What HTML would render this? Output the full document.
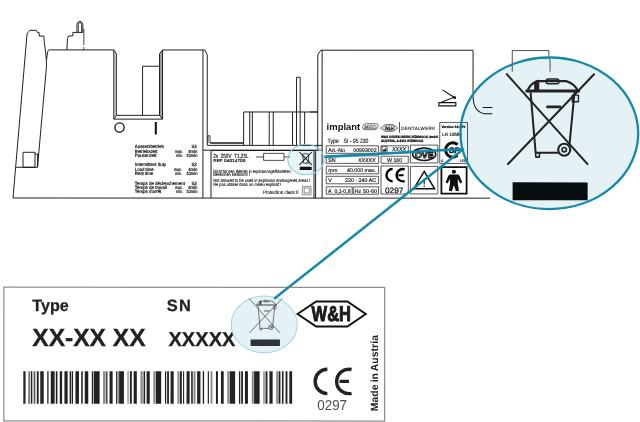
<!DOCTYPE html>
<html><head><meta charset="utf-8">
<style>
html,body{margin:0;padding:0;background:#fff;}
body{width:640px;height:422px;overflow:hidden;font-family:"Liberation Sans",sans-serif;}
svg{display:block;filter:blur(0.38px);}
text{font-family:"Liberation Sans",sans-serif;text-rendering:geometricPrecision;}
.l{fill:none;stroke:#151515;stroke-width:0.95;}
.lt{fill:none;stroke:#444;stroke-width:0.6;}
.t4{font-size:4.3px;fill:#111;stroke:#111;stroke-width:0.12;}
.b{font-weight:bold;}
</style></head><body>
<svg width="640" height="422" viewBox="0 0 640 422">
<rect width="640" height="422" fill="#fff"/>
<g transform="rotate(0.02 320 211)">

<!-- ellipse fills (under drawing) -->
<ellipse cx="305.9" cy="159.5" rx="18.1" ry="15.2" fill="#e8f4f8"/>
<ellipse cx="549.3" cy="133.2" rx="88.9" ry="75.8" fill="#e4f1f5"/>
<!-- ===== DEVICE OUTLINE ===== -->
<path d="M159.5,53.8 L162.5,50 L162.5,119.2 L159.5,115.4 Z" fill="#a0a0a0"/>
<path d="M113.8,50 L116.3,53.8 L116.3,115.4 L113.8,119.2 Z" fill="#e2e2e2"/>
<g id="device" class="l">
<path d="M13,198.1 L26.9,35 L27.2,33.6 L28.6,31.8 L29.8,30.4 L36.3,30.4 L37.4,32.6 L39.1,32.7 L39.1,36.2 L43.8,36.2 L44.3,42.8 L45.5,52.2 L46.3,59.3 L46.4,67 L37.5,167.4"/>
<path d="M49.2,50 Q47.8,50.2 47.6,52 L46.5,60"/>
<path d="M16,167.4 L37.5,167.4"/>
<rect x="23" y="152.4" width="12" height="15"/>
<path d="M35,154.2 L38.6,154.2 M37.6,154.2 L37.6,167.4"/>
<path d="M13,198.1 L490,198.1"/>
<path d="M66.8,50 L67.4,38.6 L68.6,36 L72.8,36 L72.8,32.5 L76.9,32.5 L76.9,24.6 Q77.2,21.7 79.85,21.5 Q82.5,21.7 82.75,24.6 L82.75,32.5 L76.9,32.5"/>
<path d="M78.3,32.5 L78.3,24.6 Q78.6,22.9 79.85,22.8 Q81.2,22.9 81.5,24.6 L81.5,32.5 M83.8,29 L83.8,45.4 M83.8,47.2 L83.8,50" style="stroke-width:0.8"/>
<path d="M49.2,50 L113.8,50 L113.8,119.2 L162.5,119.2 L162.5,50 L204.6,50 L207.2,54.7 L207.2,145.1"/>
<path d="M113.8,50 L116.3,53.8 L116.3,115.4 L159.5,115.4 L159.5,53.8 L162.5,50 M113.8,119.2 L116.3,115.4 M162.5,119.2 L159.5,115.4"/>
<path d="M142.5,115.4 L142.5,66.3 L159.5,66.3"/>
<path d="M202.9,50 L202.9,198.1"/>
<path d="M208,143 L208,135.8 L210,135.8 L210,143" style="stroke-width:0.8"/>
<path d="M207.2,145.4 L322.1,145.4 M202.8,150.2 L322.1,150.2"/>
<path d="M243.6,145.1 L243.6,112 L317.6,112"/>
<path d="M249.7,112 L249.7,145.1 M252.3,112 L252.3,145.1 M269.2,112 L269.2,145.1 M273.2,112 L273.2,145.1 M292.5,112 L292.5,145.1 M304.6,112 L304.6,145.1"/>
<path d="M296.5,145.1 L296.5,77.3 L300.1,77.3 L300.1,145.1"/>
<path d="M211,198.1 L211,150.5 L314,150.5 L314,198.1"/>
<path d="M315.6,198.1 L315.6,150.2 M317.7,150.2 L317.7,54.7 L320.8,50.2 L473,50.2 L473,96.8"/>
<path d="M473,96.8 Q473.4,111.5 484,113.6 L492.3,113.8 M482.7,107.5 L492.3,107.5" style="stroke-width:1;stroke:#111"/>
<path d="M322.1,50.2 L322.1,198.1"/>
<path d="M310,112 L317.7,112"/>
</g>
<path d="M210,143.1 L243.6,143.1" stroke="#1a1a1a" stroke-width="1.5" fill="none"/>
<path d="M512.2,71.6 L512.2,50.5 L548.8,50.5 L548.8,58.5 L550,60.5 L550,71.6" fill="none" stroke="#222" stroke-width="0.8"/>
<circle cx="119.5" cy="127.6" r="4.6" fill="none" stroke="#111" stroke-width="1.3"/>
<rect x="154.8" y="122" width="2" height="12.6" fill="#111"/>

<!-- ===== LEFT DUTY TEXT ===== -->
<g class="t4" id="duty" style="font-size:4.6px;stroke-width:0.2">
<text x="134.8" y="148.4" textLength="29.0" lengthAdjust="spacingAndGlyphs">Aussetzbetrieb</text><text x="196.6" y="148.4" text-anchor="end" textLength="5.2" lengthAdjust="spacingAndGlyphs">S3</text>
<text x="134.8" y="152.9" textLength="22.6" lengthAdjust="spacingAndGlyphs">Betriebszeit</text><text x="182.7" y="152.9" text-anchor="end" textLength="7.7" lengthAdjust="spacingAndGlyphs">max.</text><text x="197.5" y="152.9" text-anchor="end" textLength="9.3" lengthAdjust="spacingAndGlyphs">4min</text>
<text x="134.8" y="156.7" textLength="21.7" lengthAdjust="spacingAndGlyphs">Pausenzeit</text><text x="182.7" y="156.7" text-anchor="end" textLength="6.7" lengthAdjust="spacingAndGlyphs">min.</text><text x="197.5" y="156.7" text-anchor="end" textLength="11.3" lengthAdjust="spacingAndGlyphs">10min</text>
<text x="134.8" y="166.5" textLength="31.2" lengthAdjust="spacingAndGlyphs">Intermittent duty</text><text x="196.6" y="166.5" text-anchor="end" textLength="5.2" lengthAdjust="spacingAndGlyphs">S3</text>
<text x="134.8" y="171.2" textLength="18.8" lengthAdjust="spacingAndGlyphs">Load time</text><text x="181.8" y="171.2" text-anchor="end" textLength="7.7" lengthAdjust="spacingAndGlyphs">max.</text><text x="197.5" y="171.2" text-anchor="end" textLength="9.3" lengthAdjust="spacingAndGlyphs">4min</text>
<text x="134.8" y="175.2" textLength="18.4" lengthAdjust="spacingAndGlyphs">Rest time</text><text x="181.8" y="175.2" text-anchor="end" textLength="6.7" lengthAdjust="spacingAndGlyphs">min.</text><text x="197.5" y="175.2" text-anchor="end" textLength="11.3" lengthAdjust="spacingAndGlyphs">10min</text>
<text x="134.8" y="184.8" textLength="50.1" lengthAdjust="spacingAndGlyphs">Temps de déclenchement</text><text x="196.6" y="184.8" text-anchor="end" textLength="5.2" lengthAdjust="spacingAndGlyphs">S3</text>
<text x="134.8" y="189.0" textLength="32.2" lengthAdjust="spacingAndGlyphs">Temps de travail</text><text x="182.7" y="189.0" text-anchor="end" textLength="7.7" lengthAdjust="spacingAndGlyphs">max.</text><text x="197.5" y="189.0" text-anchor="end" textLength="9.3" lengthAdjust="spacingAndGlyphs">4min</text>
<text x="134.8" y="192.9" textLength="26.5" lengthAdjust="spacingAndGlyphs">Temps d'arrêt</text><text x="182.7" y="192.9" text-anchor="end" textLength="6.7" lengthAdjust="spacingAndGlyphs">min.</text><text x="197.5" y="192.9" text-anchor="end" textLength="11.3" lengthAdjust="spacingAndGlyphs">10min</text>
</g>
<!-- ===== FUSE LABEL ===== -->
<g id="fuse">
<text class="t4" x="213.2" y="157.8" style="font-size:6px;stroke-width:0.15" textLength="35.4" lengthAdjust="spacingAndGlyphs">2x&#160;&#160;250V&#160;&#160;T1,25L</text>
<text class="t4" x="213.2" y="162.2" style="font-size:4.2px;stroke-width:0.2" textLength="32.2" lengthAdjust="spacingAndGlyphs">REF 04014700</text>
<path class="l" style="stroke-width:0.75" d="M256,157 L290,157"/><rect class="l" style="stroke-width:0.75;fill:#fff" x="263.6" y="153.4" width="20.4" height="7"/>
<text class="t4" x="213.2" y="172.8" style="font-size:4.5px" textLength="77.4" lengthAdjust="spacingAndGlyphs">Nicht für den Betrieb in explosionsgefährdeten</text>
<text class="t4" x="213.2" y="176.5" style="font-size:4.5px" textLength="36.6" lengthAdjust="spacingAndGlyphs">Bereichen bestimmt !</text>
<text class="t4" x="213.2" y="182" style="font-size:4.5px" textLength="97.2" lengthAdjust="spacingAndGlyphs">Not allowed to be used in explosion endangered areas !</text>
<text class="t4" x="213.2" y="186.1" style="font-size:4.5px" textLength="68.2" lengthAdjust="spacingAndGlyphs">Ne pas utiliser dans un milieu explosif !</text>
<text class="t4" x="263" y="194" style="font-size:5.2px" textLength="35.6" lengthAdjust="spacingAndGlyphs">Protection class II</text>
<rect class="lt" x="302.4" y="186.4" width="8.6" height="8.3" /><rect class="lt" x="304.2" y="188" width="5.1" height="5"/>
</g>

<!-- ===== DEVICE LABEL ===== -->
<g id="dlabel">
<text x="326.6" y="129.8" class="b" style="font-size:9.4px;fill:#111" textLength="33.6" lengthAdjust="spacingAndGlyphs">implant</text>
<rect x="362.6" y="123.5" width="15.6" height="6.2" rx="3" fill="#fff" stroke="#555" stroke-width="0.7" transform="skewX(-12) translate(26.9,0)"/>
<text x="364" y="128.9" style="font-size:6px;font-style:italic;font-weight:bold;fill:#fff;stroke:#444;stroke-width:0.4" textLength="12.4" lengthAdjust="spacingAndGlyphs">MED</text>
<path d="M380.4,128 L385.4,124.5 L393,124.5 L397.8,128 L393,131.4 L385.4,131.4 Z" fill="#fff" stroke="#222" stroke-width="0.6"/>
<rect x="383.6" y="125.7" width="11.2" height="4.6" rx="2.2" fill="none" stroke="#222" stroke-width="0.5"/>
<text x="389.2" y="129.8" text-anchor="middle" class="b" style="font-size:4.6px;fill:#111;stroke:#111;stroke-width:0.2" textLength="8.4" lengthAdjust="spacingAndGlyphs">W&amp;H</text>
<path d="M399.5,122 L399.5,132.8" stroke="#222" stroke-width="0.8" fill="none"/>
<text x="401.2" y="130.2" style="font-size:4.5px;fill:#111;stroke:#111;stroke-width:0.12" textLength="34" lengthAdjust="spacing">DENTALWERK</text>
<text x="327.5" y="142.5" style="font-size:6.2px;fill:#111;stroke:#111;stroke-width:0.12" textLength="11.4" lengthAdjust="spacingAndGlyphs">Type</text>
<text x="343.6" y="142.5" style="font-size:6.2px;fill:#111;stroke:#111;stroke-width:0.12" textLength="24.8" lengthAdjust="spacingAndGlyphs">SI - 95 230</text>
<text x="380.9" y="138.3" class="b" style="font-size:3.3px;fill:#000;stroke:#000;stroke-width:0.22" textLength="57" lengthAdjust="spacingAndGlyphs">W&amp;H DENTALWERK BÜRMOOS GmbH</text>
<text x="380.9" y="141.9" class="b" style="font-size:3.3px;fill:#000;stroke:#000;stroke-width:0.22" textLength="42.5" lengthAdjust="spacingAndGlyphs">AUSTRIA,  A-5111 BÜRMOOS</text>
<g class="l" style="stroke-width:0.7">
<rect x="326.2" y="145.8" width="52.4" height="7.5"/>
<rect x="326.2" y="155.9" width="52.4" height="7.5"/>
<rect x="326.2" y="166.2" width="52.4" height="7.6"/>
<rect x="326.2" y="176.3" width="52.4" height="7.5"/>
<rect x="326.2" y="186.8" width="26" height="7.4"/>
<rect x="353.3" y="186.8" width="25.3" height="7.4"/>
<rect x="381" y="145.8" width="27.3" height="7.2"/>
<rect x="381" y="156.2" width="27.3" height="7"/>
<rect x="381" y="166" width="27.3" height="28"/>
<rect x="410.4" y="145.1" width="27.4" height="17.8"/>
<rect x="410.4" y="166.4" width="27.4" height="27.5"/>
<rect x="439.7" y="122.4" width="27.8" height="41"/>
</g>
<rect x="441.4" y="167" width="25.2" height="26.6" fill="none" stroke="#111" stroke-width="1.8"/>
<g style="font-size:5.3px;fill:#111;stroke:#111;stroke-width:0.15">
<text x="328.2" y="151.6">Art.-No</text><text x="376.6" y="151.6" text-anchor="end" textLength="23.4" lengthAdjust="spacingAndGlyphs">00993002</text>
<text x="328.2" y="161.8">SN</text><text x="375.4" y="161.8" text-anchor="end" style="font-style:italic" textLength="17.4" lengthAdjust="spacingAndGlyphs">XXXXX</text>
<text x="328.2" y="172">rpm</text><text x="376" y="172" text-anchor="end" textLength="29" lengthAdjust="spacingAndGlyphs">40.000 max.</text>
<text x="328.2" y="182.2">V</text><text x="376" y="182.2" text-anchor="end" textLength="31" lengthAdjust="spacingAndGlyphs">220 - 240 AC</text>
<text x="328" y="192.6" textLength="22.6" lengthAdjust="spacingAndGlyphs">A&#160;&#160;0,1-0,8</text>
<text x="354.6" y="192.6" textLength="22.6" lengthAdjust="spacingAndGlyphs">Hz 50-60</text>
<text x="406" y="151.4" text-anchor="end" style="font-style:italic" textLength="14" lengthAdjust="spacingAndGlyphs">XXXX</text>
<text x="394.6" y="161.6" text-anchor="middle">W 160</text>
</g>
<rect x="382" y="146.6" width="5.2" height="5.6" fill="none" stroke="#111" stroke-width="0.6"/>
<path d="M382.8,151.4 L382.8,149 L384,150 L384,149 L385.2,150 L385.2,148 L386.4,148 L386.4,151.4 Z" fill="#111"/>
<g fill="none" stroke="#000" stroke-width="2.4">
<path d="M392.6,169 A6.15,6.15 0 1 0 392.6,181.3"/>
<path d="M404.7,169.3 A6.15,6.15 0 1 0 404.7,181"/>
<path d="M398.4,175.15 L403.6,175.15" stroke-width="2.1"/>
</g>
<text x="394.2" y="193.1" text-anchor="middle" style="font-size:7.8px;fill:#111;stroke:#111;stroke-width:0.2" textLength="18.4" lengthAdjust="spacingAndGlyphs">0297</text>
<ellipse cx="424.2" cy="154.2" rx="11.6" ry="6.3" fill="none" stroke="#111" stroke-width="1.5"/>
<text x="424.2" y="158" text-anchor="middle" class="b" style="font-size:8.6px;fill:#fff;stroke:#111;stroke-width:0.9" textLength="18.6" lengthAdjust="spacingAndGlyphs">OVE</text>
<path d="M415,150.2 L433.4,150.2" stroke="#111" stroke-width="0.9"/>
<path d="M424.2,171.4 L434.6,188.7 L413.8,188.7 Z" fill="none" stroke="#111" stroke-width="1.5"/>
<path d="M424.2,178.6 L424.2,184.4 M424.2,185.6 L424.2,187" stroke="#111" stroke-width="1.1"/>
<g fill="#111">
<circle cx="453.9" cy="171.7" r="2.1"/>
<path d="M450,174.4 L457.8,174.4 Q459,174.6 459.6,176 L462.2,182.2 L460.2,183.4 L457.8,178.8 L457.8,183.4 L459,190.8 L455.9,191.3 L453.9,185 L451.9,191.3 L448.8,190.8 L450,183.4 L450,178.8 L447.6,183.4 L445.6,182.2 L448.2,176 Q448.8,174.6 450,174.4 Z"/>
</g>
<text x="441.4" y="128.4" class="b" style="font-size:3.3px;fill:#000;stroke:#000;stroke-width:0.22" textLength="24" lengthAdjust="spacingAndGlyphs">Version 16-02V</text>
<text x="442.2" y="136.2" style="font-size:4.8px;fill:#111;stroke:#111;stroke-width:0.15" textLength="19.6" lengthAdjust="spacingAndGlyphs">LR 10664</text>
<path d="M457.6,144.6 A7.2,7.2 0 1 0 457.6,155.2" fill="none" stroke="#111" stroke-width="3"/>
<text x="449" y="152.6" class="b" style="font-size:8px;fill:#111;stroke:#111;stroke-width:0.5;font-style:italic" textLength="10.5" lengthAdjust="spacingAndGlyphs">SP</text>
<text x="441" y="161.6" class="b" style="font-size:4.6px;fill:#000">c</text>
<text x="460" y="161.6" class="b" style="font-size:4px;fill:#000">US</text>
</g>
<g fill="none" stroke="#111" stroke-width="1.1">
<path d="M442.4,89.8 L454,97.2 L440.2,102.6"/>
<rect x="438.8" y="102.6" width="17" height="3.2"/>
<circle cx="454.6" cy="97.6" r="0.9" fill="#111"/>
</g>

<!-- ===== CALLOUTS ===== -->
<g id="callouts">
<ellipse cx="305.9" cy="159.5" rx="18.1" ry="15.2" fill="none" stroke="#93d0de" stroke-width="1.1"/>
<path d="M324.4,156.9 L463.4,148.9" stroke="#1589a8" stroke-width="2.6" fill="none"/>
<path d="M274.2,298.8 L463.4,149" stroke="#1589a8" stroke-width="2.5" fill="none"/>
<ellipse cx="549.3" cy="133.2" rx="88.9" ry="75.8" fill="none" stroke="#1589a8" stroke-width="2.3"/>
<rect x="512.6" y="182.3" width="75" height="17.8" fill="#050d0f"/>
<g transform="translate(0.00,0.00) scale(1)" fill="none" stroke="#222" stroke-linecap="round" stroke-linejoin="round">
<path d="M506.7,74.1 L587.5,164 M594,74.1 L508,164" stroke-width="2.0"/>
<path d="M526.6,91 L578.6,91" stroke-width="3.0"/>
<path d="M527.8,90 Q530,84.6 535.6,82 L537,81 L566,81 Q575,84.2 577.2,90" stroke-width="2.2"/>
<rect x="546" y="78.9" width="13" height="4.8" rx="2.3" stroke-width="1.4"/>
<path d="M534.8,89.8 L534.8,81.6 L538.6,80.2 L538.6,89.8 Z" stroke-width="1.3" fill="#222"/>
<path d="M530.6,93 L535.6,152.6 L558,152.6 M574.4,93 L569.6,143" stroke-width="2.0"/>
<path d="M535.6,152.6 L535.8,157 L539.4,157 L539.4,152.6" stroke-width="1.6"/>
<rect x="572.2" y="95" width="6.2" height="6.6" stroke-width="1.4"/>
<path d="M547.4,106.8 L560,106.8" stroke-width="2.6"/>
<circle cx="564.2" cy="149.6" r="6" stroke-width="2.1"/>
<circle cx="564.2" cy="149.6" r="2.2" stroke-width="1.6"/>
</g>
<path d="M299.4,152 L311.8,164.9 M311.8,152 L299.4,164.9" stroke="#111" stroke-width="1" fill="none"/>
<path d="M302,154.4 Q305.6,152.6 309.4,154.4 M302.6,154.8 L303.6,163.2 L307.2,163.2 M308.8,154.8 L308.2,161.6" stroke="#111" stroke-width="0.75" fill="none"/>
<circle cx="307.8" cy="162.7" r="1" fill="none" stroke="#111" stroke-width="0.6"/>
<rect x="299.8" y="166.8" width="11.9" height="3.3" fill="#111"/>
</g>

<!-- ===== BOTTOM LABEL ===== -->
<g id="blabel">
<rect x="3.9" y="287.3" width="380.8" height="133.7" fill="#fff" stroke="#8e8e8e" stroke-width="1.25"/>
<text x="32.4" y="311.1" class="b" style="font-size:16.4px;fill:#222;stroke:#222;stroke-width:0.25" textLength="36.4" lengthAdjust="spacingAndGlyphs">Type</text>
<text x="32.3" y="346" class="b" style="font-size:24.8px;fill:#222;stroke:#222;stroke-width:0.3" textLength="113.4" lengthAdjust="spacingAndGlyphs">XX-XX XX</text>
<text x="166.7" y="311.1" class="b" style="font-size:16.4px;fill:#222;stroke:#222;stroke-width:0.25;letter-spacing:1.5px">SN</text>
<text x="168.5" y="346.1" class="b" style="font-size:20px;fill:#222;stroke:#222;stroke-width:0.3" textLength="67" lengthAdjust="spacing">XXXXX</text>
<rect x="23.40" y="371.3" width="2.20" height="32.5" fill="#222"/><rect x="28.60" y="371.3" width="1.10" height="32.5" fill="#222"/><rect x="30.90" y="371.3" width="1.30" height="32.5" fill="#222"/><rect x="32.60" y="371.3" width="1.00" height="32.5" fill="#8a8a8a"/><rect x="34.30" y="371.3" width="1.00" height="32.5" fill="#222"/><rect x="36.90" y="371.3" width="1.85" height="32.5" fill="#222"/><rect x="40.30" y="371.3" width="3.45" height="32.5" fill="#222"/><rect x="47.30" y="371.3" width="1.30" height="32.5" fill="#222"/><rect x="50.80" y="371.3" width="3.90" height="32.5" fill="#222"/><rect x="55.90" y="371.3" width="1.60" height="32.5" fill="#222"/><rect x="59.80" y="371.3" width="2.40" height="32.5" fill="#222"/><rect x="64.50" y="371.3" width="3.20" height="32.5" fill="#222"/><rect x="69.70" y="371.3" width="1.55" height="32.5" fill="#222"/><rect x="71.90" y="371.3" width="1.20" height="32.5" fill="#222"/><rect x="75.50" y="371.3" width="3.50" height="32.5" fill="#222"/><rect x="81.25" y="371.3" width="1.55" height="32.5" fill="#222"/><rect x="84.80" y="371.3" width="3.50" height="32.5" fill="#222"/><rect x="91.90" y="371.3" width="1.20" height="32.5" fill="#222"/><rect x="93.75" y="371.3" width="5.95" height="32.5" fill="#222"/><rect x="103.10" y="371.3" width="2.50" height="32.5" fill="#8a8a8a"/><rect x="106.25" y="371.3" width="1.25" height="32.5" fill="#222"/><rect x="109.60" y="371.3" width="3.10" height="32.5" fill="#222"/><rect x="116.20" y="371.3" width="1.30" height="32.5" fill="#222"/><rect x="118.20" y="371.3" width="1.00" height="32.5" fill="#8a8a8a"/><rect x="119.20" y="371.3" width="4.80" height="32.5" fill="#222"/><rect x="127.50" y="371.3" width="1.25" height="32.5" fill="#8a8a8a"/><rect x="130.00" y="371.3" width="1.90" height="32.5" fill="#222"/><rect x="133.75" y="371.3" width="3.15" height="32.5" fill="#222"/><rect x="140.50" y="371.3" width="2.30" height="32.5" fill="#8a8a8a"/><rect x="143.60" y="371.3" width="1.60" height="32.5" fill="#222"/><rect x="146.70" y="371.3" width="3.10" height="32.5" fill="#222"/><rect x="153.40" y="371.3" width="2.20" height="32.5" fill="#8a8a8a"/><rect x="156.00" y="371.3" width="5.25" height="32.5" fill="#222"/><rect x="165.00" y="371.3" width="1.25" height="32.5" fill="#222"/><rect x="167.20" y="371.3" width="1.80" height="32.5" fill="#222"/><rect x="170.60" y="371.3" width="3.15" height="32.5" fill="#222"/><rect x="177.50" y="371.3" width="2.00" height="32.5" fill="#8a8a8a"/><rect x="180.00" y="371.3" width="1.90" height="32.5" fill="#222"/><rect x="183.10" y="371.3" width="1.10" height="32.5" fill="#222"/><rect x="186.60" y="371.3" width="3.10" height="32.5" fill="#222"/><rect x="191.25" y="371.3" width="1.55" height="32.5" fill="#222"/><rect x="193.60" y="371.3" width="2.00" height="32.5" fill="#8a8a8a"/><rect x="197.20" y="371.3" width="3.30" height="32.5" fill="#222"/><rect x="202.80" y="371.3" width="1.40" height="32.5" fill="#222"/><rect x="207.80" y="371.3" width="1.20" height="32.5" fill="#222"/><rect x="210.60" y="371.3" width="1.90" height="32.5" fill="#8a8a8a"/><rect x="216.00" y="371.3" width="2.00" height="32.5" fill="#222"/><rect x="221.00" y="371.3" width="2.75" height="32.5" fill="#222"/><rect x="227.30" y="371.3" width="2.40" height="32.5" fill="#8a8a8a"/><rect x="230.00" y="371.3" width="5.20" height="32.5" fill="#222"/><rect x="239.00" y="371.3" width="1.30" height="32.5" fill="#222"/><rect x="241.25" y="371.3" width="1.75" height="32.5" fill="#222"/><rect x="245.00" y="371.3" width="3.00" height="32.5" fill="#222"/><rect x="251.90" y="371.3" width="2.00" height="32.5" fill="#8a8a8a"/><rect x="254.20" y="371.3" width="5.50" height="32.5" fill="#222"/><rect x="263.30" y="371.3" width="1.50" height="32.5" fill="#8a8a8a"/><rect x="265.60" y="371.3" width="1.90" height="32.5" fill="#222"/><rect x="269.50" y="371.3" width="3.20" height="32.5" fill="#222"/><rect x="276.25" y="371.3" width="1.75" height="32.5" fill="#8a8a8a"/><rect x="278.60" y="371.3" width="1.90" height="32.5" fill="#222"/><rect x="282.00" y="371.3" width="1.60" height="32.5" fill="#222"/><rect x="285.60" y="371.3" width="1.90" height="32.5" fill="#222"/><rect x="289.40" y="371.3" width="2.80" height="32.5" fill="#222"/>
<ellipse cx="264.3" cy="324.4" rx="33" ry="28.4" fill="#e4f1f5" stroke="#a3d5e0" stroke-width="1"/>
<g transform="translate(56.50,270.38) scale(0.38)" fill="none" stroke="#444" stroke-linecap="round" stroke-linejoin="round">
<path d="M506.7,74.1 L587.5,164 M594,74.1 L508,164" stroke-width="1.9"/>
<path d="M526.6,91 L578.6,91" stroke-width="2.8499999999999996"/>
<path d="M527.8,90 Q530,84.6 535.6,82 L537,81 L566,81 Q575,84.2 577.2,90" stroke-width="2.09"/>
<rect x="546" y="78.9" width="13" height="4.8" rx="2.3" stroke-width="1.3299999999999998"/>
<path d="M534.8,89.8 L534.8,81.6 L538.6,80.2 L538.6,89.8 Z" stroke-width="1.2349999999999999" fill="#444"/>
<path d="M530.6,93 L535.6,152.6 L558,152.6 M574.4,93 L569.6,143" stroke-width="1.9"/>
<path d="M535.6,152.6 L535.8,157 L539.4,157 L539.4,152.6" stroke-width="1.52"/>
<rect x="572.2" y="95" width="6.2" height="6.6" stroke-width="1.3299999999999998"/>
<path d="M547.4,106.8 L560,106.8" stroke-width="2.4699999999999998"/>
<circle cx="564.2" cy="149.6" r="6" stroke-width="1.9949999999999999"/>
<circle cx="564.2" cy="149.6" r="2.2" stroke-width="1.52"/>
</g>
<rect x="250.6" y="339.6" width="29.4" height="6.5" fill="#2b3538"/>
<path d="M297.6,314 L316.2,301.5 L347.4,301.5 L365.8,314 L347.4,326.6 L316.2,326.6 Z" fill="#fff" stroke="#111" stroke-width="2" stroke-linejoin="miter"/>
<text x="311.6" y="321.3" class="b" style="font-size:21.4px;fill:#1a1a1a;stroke:#1a1a1a;stroke-width:1" textLength="39.4" lengthAdjust="spacingAndGlyphs">W&amp;H</text>
<g fill="none" stroke="#222" stroke-width="3.4">
<path d="M327.4,369.2 A12.2,12.2 0 0 0 327.4,393.6"/>
<path d="M351.6,369.5 A12.2,12.2 0 1 0 351.6,393.3" />
<path d="M339.6,381.4 L349,381.4" stroke-width="3.1"/>
</g>
<text x="332.2" y="410.4" text-anchor="middle" style="font-size:14.4px;fill:#505050" textLength="29.8" lengthAdjust="spacingAndGlyphs">0297</text>
<text transform="translate(378.2,411.2) rotate(-90)" class="b" style="font-size:10.4px;fill:#222;word-spacing:-1px" textLength="76.2" lengthAdjust="spacing">Made in Austria</text>
</g>
<path d="M274.2,298.8 L289,287" stroke="#1589a8" stroke-width="2.5" fill="none"/>

</g>
</svg>
</body></html>
